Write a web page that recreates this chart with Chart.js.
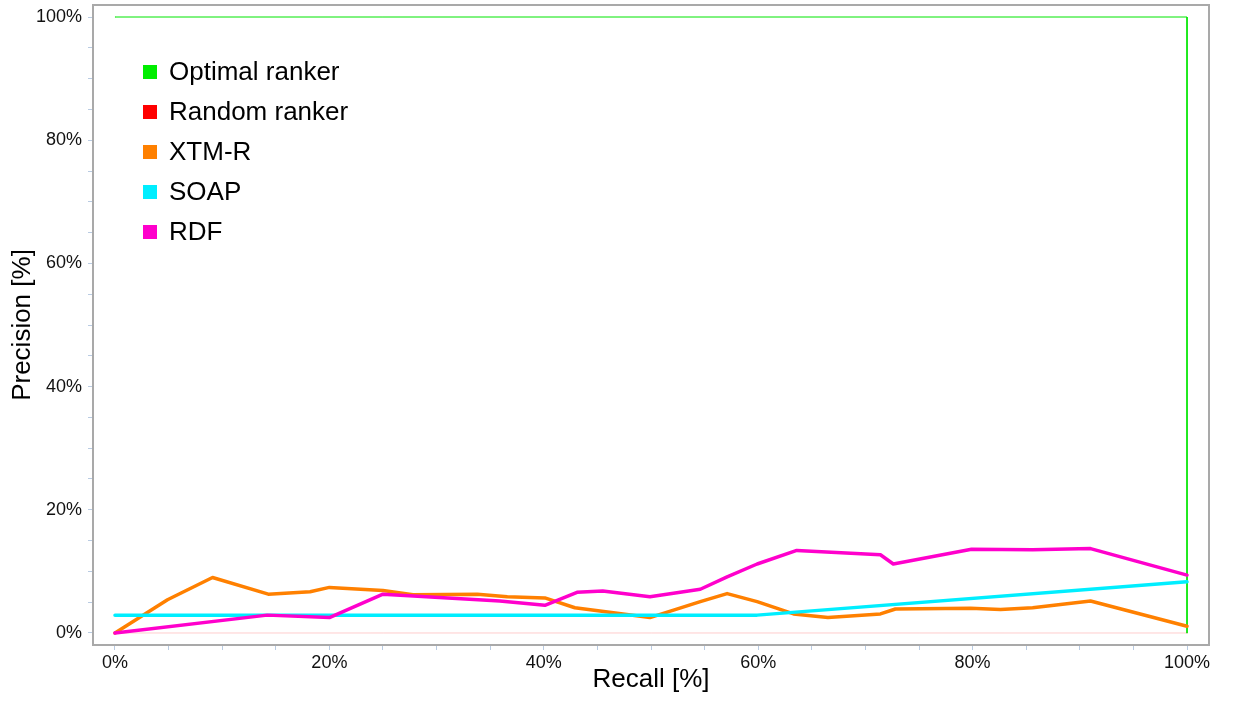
<!DOCTYPE html>
<html>
<head>
<meta charset="utf-8">
<script src="https://cdn.jsdelivr.net/npm/chart.js@4.4.1/dist/chart.umd.min.js"></script>
<style>
  body { margin: 0; background: #fff; }
  #wrap { width: 1236px; height: 704px; }
</style>
</head>
<body>
<div id="wrap"><canvas id="pr" width="1236" height="704"></canvas></div>
<script>
// tick positions (percent), labels only every 20
const xTicks = [0, 5, 10, 15, 20, 25, 30, 35, 40, 45, 50, 55, 60, 65, 70, 75, 80, 85, 90, 95, 100];
const yTicks = [0, 5, 10, 15, 20, 25, 30, 35, 40, 45, 50, 55, 60, 65, 70, 75, 80, 85, 90, 95, 100];

const optimalRecall = [0, 100, 100];
const optimalPrecision = [100, 100, 0];

const randomRecall = [0, 100];
const randomPrecision = [0, 0];

const xtmRecall = [0, 4.9, 9.1, 14.3, 18.2, 20.0, 25.0, 27.8, 33.8, 36.6, 40.1, 42.9, 49.9, 54.6, 57.1, 59.9, 63.3, 66.5, 71.4, 72.8, 79.8, 82.6, 85.6, 91.0, 100];
const xtmPrecision = [0, 5.4, 9.0, 6.3, 6.7, 7.4, 6.9, 6.2, 6.3, 5.9, 5.7, 4.1, 2.5, 5.1, 6.4, 5.1, 3.1, 2.5, 3.1, 3.9, 4.0, 3.8, 4.1, 5.2, 1.1];

const soapRecall = [0, 59.9, 100];
const soapPrecision = [2.9, 2.9, 8.3];

const rdfRecall = [0, 14.2, 20.0, 25.0, 35.9, 40.1, 43.1, 45.5, 49.9, 54.6, 57.1, 59.9, 63.6, 71.4, 72.6, 79.9, 85.6, 91.0, 100];
const rdfPrecision = [0, 2.9, 2.5, 6.3, 5.2, 4.5, 6.6, 6.8, 5.9, 7.1, 9.1, 11.2, 13.4, 12.7, 11.2, 13.6, 13.5, 13.7, 9.4];

const FONT = '"Liberation Sans", Arial, Helvetica, sans-serif';

function pts(xs, ys) {
  return xs.map((x, i) => ({ x: x, y: ys[i] }));
}

// grey frame round the plot area
const framePlugin = {
  id: 'frame',
  beforeDatasetsDraw(chart) {
    const { ctx, chartArea: a } = chart;
    ctx.save();
    ctx.strokeStyle = '#a9a9a9';
    ctx.lineWidth = 2;
    ctx.strokeRect(a.left, a.top, a.right - a.left, a.bottom - a.top);
    ctx.restore();
  }
};

// legend drawn inside the plot, top-left
const innerLegend = {
  id: 'innerLegend',
  afterDraw(chart) {
    const ctx = chart.ctx;
    ctx.save();
    ctx.font = '26px ' + FONT;
    ctx.textBaseline = 'middle';
    chart.data.datasets.forEach((ds, i) => {
      const y = 72 + i * 40;
      ctx.fillStyle = ds.backgroundColor;
      ctx.fillRect(143, y - 7, 14, 14);
      ctx.fillStyle = '#000';
      ctx.fillText(ds.label, 169, y + 1);
    });
    ctx.restore();
  }
};

const tickGrid = {
  display: true,
  drawOnChartArea: false,
  drawTicks: true,
  tickLength: 5,
  color: '#b9cbe2',
  tickColor: '#b9cbe2'
};

new Chart(document.getElementById('pr'), {
  type: 'scatter',
  data: {
    datasets: [
      { label: 'Optimal ranker', data: pts(optimalRecall, optimalPrecision), borderColor: '#00e600', backgroundColor: '#00ee00', borderWidth: 1, order: 4 },
      { label: 'Random ranker', data: pts(randomRecall, randomPrecision), borderColor: 'rgba(255,0,0,0.2)', backgroundColor: '#ff0000', borderWidth: 1, order: 3 },
      { label: 'XTM-R', data: pts(xtmRecall, xtmPrecision), borderColor: '#ff8000', backgroundColor: '#ff8000', borderWidth: 3.5, order: 2 },
      { label: 'SOAP', data: pts(soapRecall, soapPrecision), borderColor: '#00eeff', backgroundColor: '#00eeff', borderWidth: 3.5, order: 1 },
      { label: 'RDF', data: pts(rdfRecall, rdfPrecision), borderColor: '#ff00cc', backgroundColor: '#ff00cc', borderWidth: 3.5, order: 0 }
    ]
  },
  options: {
    responsive: false,
    animation: false,
    showLine: true,
    elements: { point: { radius: 0, hoverRadius: 0 }, line: { tension: 0, borderCapStyle: 'round', borderJoinStyle: 'round' } },
    layout: { padding: { top: 5, right: 27, bottom: 0, left: 0 } },
    plugins: { legend: { display: false }, tooltip: { enabled: false } },
    scales: {
      x: {
        type: 'linear',
        min: -2.05,
        max: 102.05,
        afterBuildTicks: (axis) => { axis.ticks = xTicks.map(v => ({ value: v })); },
        afterFit: (axis) => { axis.height = 59; axis.paddingLeft = 0; axis.paddingRight = 0; },
        grid: tickGrid,
        border: { display: false },
        ticks: {
          autoSkip: false,
          maxRotation: 0,
          padding: 2,
          color: '#111',
          font: { family: FONT, size: 18 },
          callback: (v) => (v % 20 === 0 ? v + '%' : '')
        },
        title: { display: true, text: 'Recall [%]', color: '#000', font: { family: FONT, size: 26 }, padding: { top: 0, bottom: 9 } }
      },
      y: {
        type: 'linear',
        min: -1.95,
        max: 101.95,
        afterBuildTicks: (axis) => { axis.ticks = yTicks.map(v => ({ value: v })); },
        afterFit: (axis) => { axis.width = 93; axis.paddingTop = 0; axis.paddingBottom = 0; },
        grid: tickGrid,
        border: { display: false },
        ticks: {
          autoSkip: false,
          padding: 6,
          color: '#111',
          font: { family: FONT, size: 18 },
          callback: (v) => (v % 20 === 0 ? v + '%' : '')
        },
        title: { display: true, text: 'Precision [%]', color: '#000', font: { family: FONT, size: 26 }, padding: { top: 7, bottom: 0 } }
      }
    }
  },
  plugins: [framePlugin, innerLegend]
});
</script>
</body>
</html>
